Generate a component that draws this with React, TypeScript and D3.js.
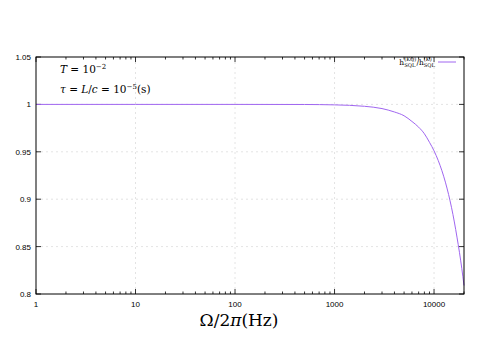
import React, { useRef, useEffect } from 'react';
import * as d3 from 'd3';

// frequency (Hz) and ratio
const freqs = [1, 10, 100, 500, 1000, 2000, 3000, 4000, 5000, 6000, 7000, 8000, 9000, 10000,
  11000, 12000, 13000, 14000, 15000, 16000, 17000, 18000, 19000, 20000];
const ratios = [1.0, 1.0, 1.0, 0.9999, 0.9995, 0.998, 0.9956, 0.992, 0.988, 0.982, 0.976, 0.969,
  0.96, 0.951, 0.941, 0.93, 0.918, 0.905, 0.891, 0.876, 0.86, 0.844, 0.827, 0.809];

const xTicks = [1, 10, 100, 1000, 10000];
const yTicks = [0.8, 0.85, 0.9, 0.95, 1, 1.05];
const yTickLabels = ['0.8', '0.85', '0.9', '0.95', '1', '1.05'];

const width = 478;
const height = 359;
const marginTop = 57;
const marginRight = 14;
const marginBottom = 65;
const marginLeft = 36;

export default function App() {
  const svgRef = useRef<SVGSVGElement>(null);

  useEffect(() => {
    const svg = d3.select(svgRef.current);
    svg.selectAll('*').remove();

    const x = d3.scaleLog().domain([1, 20000]).range([marginLeft, width - marginRight]);
    const y = d3.scaleLinear().domain([0.8, 1.05]).range([height - marginBottom, marginTop]);
    const x0 = marginLeft, x1 = width - marginRight, y0 = height - marginBottom, y1 = marginTop;

    // grid
    const grid = svg.append('g').attr('stroke', '#d0d0d0').attr('stroke-width', 0.6)
      .attr('stroke-dasharray', '2,3');
    grid.selectAll('.gx').data(xTicks.slice(1)).join('line')
      .attr('x1', d => x(d)).attr('x2', d => x(d)).attr('y1', y0).attr('y2', y1);
    grid.selectAll('.gy').data(yTicks.slice(1, -1)).join('line')
      .attr('x1', x0).attr('x2', x1).attr('y1', d => y(d)).attr('y2', d => y(d));

    // ticks (inward, mirrored like gnuplot)
    const minor: number[] = [];
    for (let e = 0; e < 5; e++) for (let m = 2; m <= 9; m++) {
      const v = m * Math.pow(10, e);
      if (v <= 20000) minor.push(v);
    }
    const tk = svg.append('g').attr('stroke', '#000').attr('stroke-width', 0.8);
    xTicks.forEach(d => {
      tk.append('line').attr('x1', x(d)).attr('x2', x(d)).attr('y1', y0).attr('y2', y0 - 5);
      tk.append('line').attr('x1', x(d)).attr('x2', x(d)).attr('y1', y1).attr('y2', y1 + 5);
    });
    minor.forEach(d => {
      tk.append('line').attr('x1', x(d)).attr('x2', x(d)).attr('y1', y0).attr('y2', y0 - 2.5);
      tk.append('line').attr('x1', x(d)).attr('x2', x(d)).attr('y1', y1).attr('y2', y1 + 2.5);
    });
    yTicks.forEach(d => {
      tk.append('line').attr('x1', x0).attr('x2', x0 + 5).attr('y1', y(d)).attr('y2', y(d));
      tk.append('line').attr('x1', x1).attr('x2', x1 - 5).attr('y1', y(d)).attr('y2', y(d));
    });

    // tick labels
    const lab = svg.append('g').attr('font-family', 'Liberation Sans, Arial, sans-serif')
      .attr('font-size', 8).attr('fill', '#000');
    xTicks.forEach(d => {
      lab.append('text').attr('x', x(d)).attr('y', y0 + 13).attr('text-anchor', 'middle').text(String(d));
    });
    yTicks.forEach((d, i) => {
      lab.append('text').attr('x', x0 - 5).attr('y', y(d) + 3).attr('text-anchor', 'end').text(yTickLabels[i]);
    });

    // curve
    const line = d3.line<number>()
      .x((_, i) => x(freqs[i]))
      .y(d => y(d))
      .curve(d3.curveMonotoneX);
    svg.append('path').datum(ratios).attr('fill', 'none').attr('stroke', '#a066f0')
      .attr('stroke-width', 1).attr('d', line);

    // frame
    svg.append('rect').attr('x', x0).attr('y', y1).attr('width', x1 - x0).attr('height', y0 - y1)
      .attr('fill', 'none').attr('stroke', '#000').attr('stroke-width', 1);

    // legend: h^(KQ)_SQL / h^(K)_SQL, laid out piece by piece
    const lg = svg.append('g').attr('font-family', 'DejaVu Serif, serif').attr('fill', '#000');
    let cx = 0;
    const base = 64.5;
    const put = (s: string, size: number, dy: number) => {
      const t = lg.append('text').attr('x', cx).attr('y', base + dy).attr('font-size', size).text(s);
      return (t.node() as SVGTextElement).getComputedTextLength();
    };
    const stack = (sup: string, sub: string) => {
      const w1 = put(sup, 5.2, -4);
      const w2 = put(sub, 5.2, 2.2);
      cx += Math.max(w1, w2);
    };
    cx += put('h', 7.5, 0);
    stack('(KQ)', 'SQL');
    cx += put('/h', 7.5, 0);
    stack('(K)', 'SQL');
    lg.attr('transform', `translate(${435 - cx},0)`);
    svg.append('line').attr('x1', 438).attr('x2', 456).attr('y1', 62).attr('y2', 62)
      .attr('stroke', '#a066f0').attr('stroke-width', 1);

    // annotations
    const an = svg.append('g').attr('font-family', 'DejaVu Serif, Liberation Serif, serif')
      .attr('font-size', 10.5).attr('fill', '#000');
    const t1 = an.append('text').attr('x', 60).attr('y', 73);
    t1.append('tspan').attr('font-style', 'italic').text('T');
    t1.append('tspan').text(' = 10');
    t1.append('tspan').attr('font-size', 7).attr('dy', -4).text('−2');
    const t2 = an.append('text').attr('x', 60).attr('y', 93);
    t2.append('tspan').attr('font-style', 'italic').text('τ');
    t2.append('tspan').text(' = ');
    t2.append('tspan').attr('font-style', 'italic').text('L');
    t2.append('tspan').text('/');
    t2.append('tspan').attr('font-style', 'italic').text('c');
    t2.append('tspan').text(' = 10');
    t2.append('tspan').attr('font-size', 7).attr('dy', -4).text('−5');
    t2.append('tspan').attr('dy', 4).text('(s)');

    // x axis label
    const xl = svg.append('text').attr('x', 239).attr('y', 326).attr('text-anchor', 'middle')
      .attr('font-family', 'DejaVu Serif, Liberation Serif, serif').attr('font-size', 17).attr('fill', '#000');
    xl.append('tspan').text('Ω/2');
    xl.append('tspan').attr('font-style', 'italic').text('π');
    xl.append('tspan').text('(Hz)');
  }, []);

  return (
    <svg ref={svgRef} width={width} height={height}
      style={{ position: 'absolute', left: 0, top: 0, background: '#fff' }} />
  );
}
